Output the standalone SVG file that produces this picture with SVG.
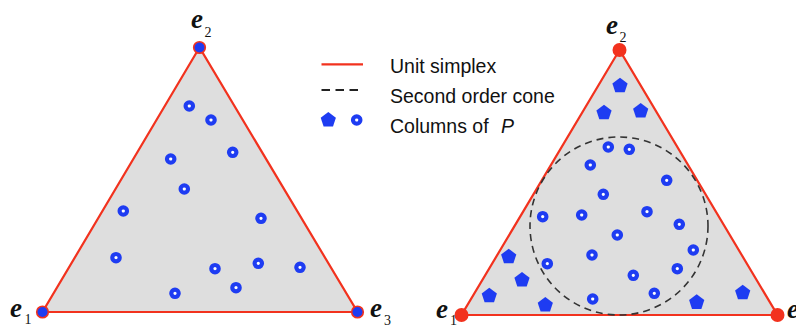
<svg xmlns="http://www.w3.org/2000/svg" xmlns:xlink="http://www.w3.org/1999/xlink" width="796" height="327" viewBox="0 0 796 327">
<style>
.tri{fill:#dedede;stroke:#f2321e;stroke-width:2.2;stroke-linejoin:miter}
.ring{fill:#ffffff;stroke:#1e3cf2;stroke-width:4.2}
.pent{fill:#1e3cf2}
.lbl{font-family:"Liberation Serif",serif;font-style:italic;font-weight:bold;font-size:27px;fill:#111}
.sub{font-family:"Liberation Serif",serif;font-size:14px;fill:#111}
.leg{font-family:"Liberation Sans",sans-serif;font-size:19.5px;fill:#111}
</style>
<defs>
<circle id="r" r="3.7" class="ring"/>
<path id="p" class="pent" d="M0,-8 L7.6,-2.3 L4.7,6.6 L-4.7,6.6 L-7.6,-2.3 Z"/>
</defs>
<rect width="796" height="327" fill="#ffffff"/>

<g id="left-simplex">
<polygon class="tri" points="199.5,47.5 42.5,312 357.5,312"/>
<g id="left-vertices" fill="#1e3cf2" stroke="#f2321e" stroke-width="1.6">
<circle cx="199.5" cy="47.5" r="5.8"/>
<circle cx="42.5" cy="312" r="5.8"/>
<circle cx="357.5" cy="312" r="5.8"/>
</g>
<g id="left-points">
<use xlink:href="#r" x="189.3" y="106"/>
<use xlink:href="#r" x="211" y="120"/>
<use xlink:href="#r" x="232.7" y="152.3"/>
<use xlink:href="#r" x="170.7" y="159"/>
<use xlink:href="#r" x="184.3" y="189"/>
<use xlink:href="#r" x="123.3" y="211"/>
<use xlink:href="#r" x="261" y="218.3"/>
<use xlink:href="#r" x="116" y="257.7"/>
<use xlink:href="#r" x="215" y="268.7"/>
<use xlink:href="#r" x="258.3" y="263.3"/>
<use xlink:href="#r" x="300" y="267.3"/>
<use xlink:href="#r" x="236" y="287.7"/>
<use xlink:href="#r" x="175" y="293.3"/>
</g>
<g id="left-labels">
<text class="lbl" x="191" y="28">e</text><text class="sub" x="204.5" y="37">2</text>
<text class="lbl" x="10" y="317">e</text><text class="sub" x="24.5" y="324">1</text>
<text class="lbl" x="370" y="317">e</text><text class="sub" x="384" y="325">3</text>
</g>
</g>

<g id="legend">
<line x1="321.5" y1="64.3" x2="363" y2="64.3" stroke="#f2321e" stroke-width="2.2"/>
<line x1="321.5" y1="90" x2="362" y2="90" stroke="#222" stroke-width="2" stroke-dasharray="8.5,5.5"/>
<use xlink:href="#p" x="328.3" y="120"/>
<use xlink:href="#r" x="356.7" y="120"/>
<text class="leg" x="390" y="73.3">Unit simplex</text>
<text class="leg" x="390" y="103.3">Second order cone</text>
<text class="leg" x="390" y="133.3">Columns of</text>
<text class="leg" x="501" y="133.3" font-family="Liberation Serif, serif" font-style="italic" font-size="21">P</text>
</g>

<g id="right-simplex">
<polygon class="tri" points="619.5,50 461.5,315 777.5,315"/>
<circle id="cone" cx="619" cy="226" r="89" fill="none" stroke="#333" stroke-width="1.6" stroke-dasharray="7,5"/>
<g id="right-vertices" fill="#f2321e">
<circle cx="619.5" cy="50" r="7"/>
<circle cx="461.5" cy="315" r="7"/>
<circle cx="777.5" cy="315" r="7"/>
</g>
<g id="right-points">
<use xlink:href="#r" x="608.3" y="147"/>
<use xlink:href="#r" x="629.3" y="149.3"/>
<use xlink:href="#r" x="590.3" y="165"/>
<use xlink:href="#r" x="666.7" y="180.3"/>
<use xlink:href="#r" x="603.3" y="194.3"/>
<use xlink:href="#r" x="542.7" y="216.7"/>
<use xlink:href="#r" x="581.7" y="215"/>
<use xlink:href="#r" x="647" y="211.7"/>
<use xlink:href="#r" x="679.3" y="224.3"/>
<use xlink:href="#r" x="617.3" y="235"/>
<use xlink:href="#r" x="693.3" y="250"/>
<use xlink:href="#r" x="592" y="255"/>
<use xlink:href="#r" x="547.3" y="263.7"/>
<use xlink:href="#r" x="677.3" y="268.7"/>
<use xlink:href="#r" x="633.3" y="275.3"/>
<use xlink:href="#r" x="654.3" y="293.3"/>
<use xlink:href="#r" x="592.7" y="299"/>
</g>
<g id="right-pentagons">
<use xlink:href="#p" x="620" y="85.7"/>
<use xlink:href="#p" x="604" y="112.7"/>
<use xlink:href="#p" x="640.7" y="111"/>
<use xlink:href="#p" x="508.7" y="256.7"/>
<use xlink:href="#p" x="522" y="280"/>
<use xlink:href="#p" x="489.3" y="295.7"/>
<use xlink:href="#p" x="545.3" y="305"/>
<use xlink:href="#p" x="696.7" y="302.3"/>
<use xlink:href="#p" x="742.7" y="292.7"/>
</g>
<g id="right-labels">
<text class="lbl" x="606" y="34">e</text><text class="sub" x="619.5" y="42">2</text>
<text class="lbl" x="436" y="318">e</text><text class="sub" x="450" y="324.5">1</text>
<text class="lbl" x="787" y="318">e</text>
</g>
</g>
</svg>
